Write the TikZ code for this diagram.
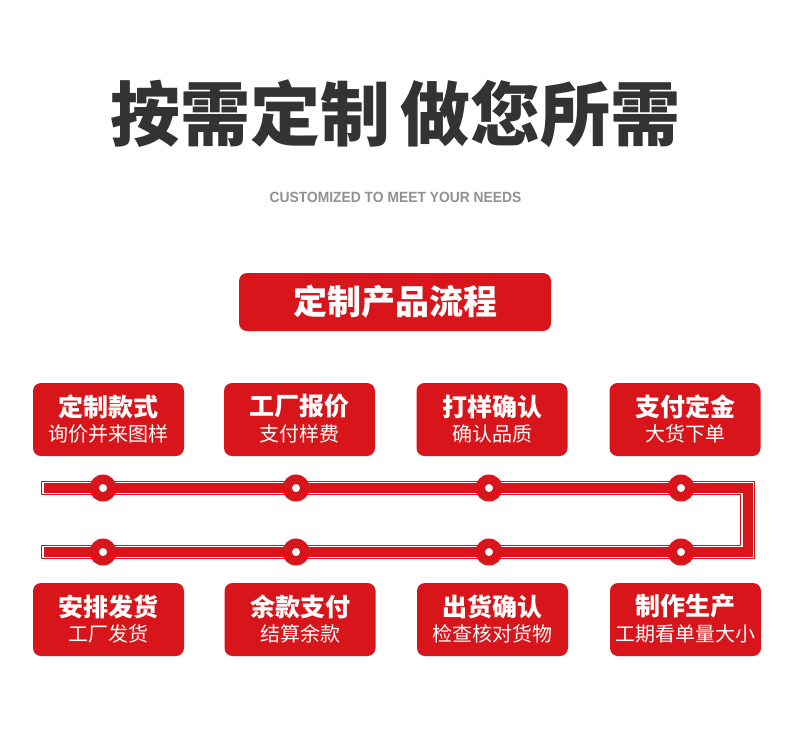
\documentclass[tikz,border=0pt]{standalone}
\usepackage{fontspec}
\usetikzlibrary{calc}
\setmainfont{Liberation Sans}
\newfontfamily\cjk{Noto Sans CJK SC}
\definecolor{brand}{RGB}{215,21,26}
\definecolor{inkgray}{RGB}{51,51,51}
\definecolor{subgray}{RGB}{145,145,145}
\tikzset{
  stepbox/.style={fill=brand, rounded corners=8pt, minimum width=151pt, minimum height=73pt, inner sep=0pt},
  boxtitle/.style={text=white, font=\cjk\bfseries\fontsize{25pt}{25pt}\selectfont, inner sep=0pt},
  boxsub/.style={text=white, font=\cjk\fontsize{20pt}{20pt}\selectfont, inner sep=0pt},
  dot/.style={circle, fill=brand, minimum size=27pt, inner sep=0pt},
  hole/.style={circle, fill=white, minimum size=8pt, inner sep=0pt},
  bigtitle/.style={text=inkgray, font=\cjk\bfseries\fontsize{70pt}{70pt}\selectfont, inner sep=0pt},
  pipe/.style={line join=miter, line cap=rect},
}
\begin{document}
\begin{tikzpicture}[x=1pt,y=-1pt]
\path[use as bounding box, fill=white] (0,0) rectangle (790,737);
% titles
\node[bigtitle] (t1) at (250,114) {按需定制};
\node[bigtitle] (t2) at (540,114) {做您所需};
\node[text=subgray, font=\bfseries\fontsize{14.8pt}{14.8pt}\selectfont, inner sep=0pt] (sub) at (395.5,197) {\scalebox{0.935}[1]{CUSTOMIZED TO MEET YOUR NEEDS}};
\node[fill=brand, rounded corners=8pt, minimum width=312pt, minimum height=58pt, inner sep=0pt,
      text=white, font=\cjk\bfseries\fontsize{34pt}{34pt}\selectfont] (head) at (395,302) {定制产品流程};
% pipe
\coordinate (tl) at (48.5,488);
\coordinate (tr) at (747.5,488);
\coordinate (br) at (747.5,552);
\coordinate (bl) at (48.5,552);
\draw[pipe, brand, line width=14.5pt] (tl) -- (tr) -- (br) -- (bl);
\draw[pipe, white, line width=12.5pt] (tl) -- (tr) -- (br) -- (bl);
\draw[pipe, brand, line width=10pt] (tl) -- (tr) -- (br) -- (bl);
% dots
\foreach \i/\x in {1/103,2/296,3/489,4/681}{
  \node[dot] (d\i) at (\x,488) {};
  \node[hole] at (d\i.center) {};
}
\foreach \i/\x in {5/681,6/489,7/296,8/103}{
  \node[dot] (d\i) at (\x,552) {};
  \node[hole] at (d\i.center) {};
}
% boxes
\foreach \n/\x/\y/\a/\b in {
  b1/108.5/419.5/定制款式/询价并来图样,
  b2/299.5/419.5/工厂报价/支付样费,
  b3/492/419.5/打样确认/确认品质,
  b4/685/419.5/支付定金/大货下单,
  b8/108.5/619.5/安排发货/工厂发货,
  b7/300/619.5/余款支付/结算余款,
  b6/492.5/619.5/出货确认/检查核对货物,
  b5/685.5/619.5/制作生产/工期看单量大小}{
  \node[stepbox] (\n) at (\x,\y) {};
  \node[boxtitle] at ($(\n.center)+(0,-13)$) {\a};
  \node[boxsub] at ($(\n.center)+(0,14)$) {\b};
}
\end{tikzpicture}
\end{document}
